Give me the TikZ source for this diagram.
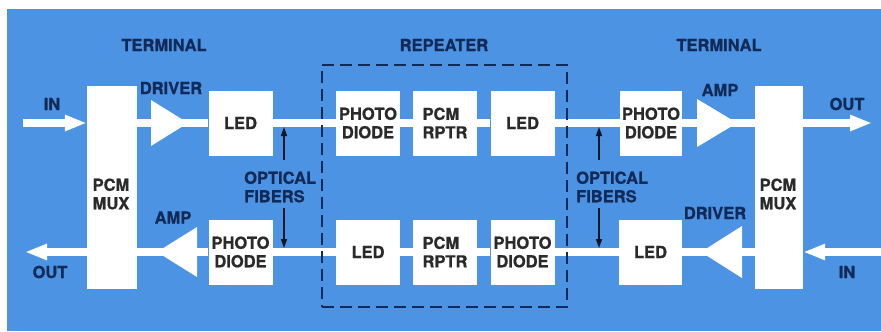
\documentclass[tikz,border=0pt]{standalone}
\usepackage{fontspec}
\setmainfont{TeX Gyre Heros}[BoldFeatures={FakeBold=0.8}]
\usetikzlibrary{arrows.meta}
\definecolor{bg}{RGB}{76,147,227}
\definecolor{navy}{RGB}{18,42,88}
\definecolor{boxtext}{RGB}{42,42,42}
\definecolor{fibcol}{RGB}{15,22,40}
\tikzset{
 lbl/.style={text=navy, font=\bfseries\fontsize{16.5}{18.5}\selectfont, inner sep=0pt},
 blk/.style={fill=white, minimum width=64pt, minimum height=65pt, inner sep=0pt, text=boxtext, align=center, font=\bfseries\fontsize{16.5}{18.5}\selectfont},
 muxbox/.style={fill=white, minimum width=50pt, minimum height=203pt, inner sep=0pt},
 sig/.style={white, line width=8pt},
 bigarrow/.style={sig, -{Triangle[length=22pt,width=15pt]}},
 fib/.style={fibcol, line width=1.5pt, -{Triangle[length=9pt,width=6pt]}},
 tri/.style={fill=white},
 repbox/.style={draw=navy, line width=2pt, dash pattern=on 12pt off 6pt, minimum width=245pt, minimum height=242pt, inner sep=0pt},
}
\begin{document}
\begin{tikzpicture}[x=1pt,y=-1pt]
\useasboundingbox (0,0) rectangle (881,332);
\fill[white] (0,0) rectangle (881,332);
\fill[bg] (7,9) rectangle (881,331);

% multiplexers
\node[muxbox] (muxL) at (112,187.5) {};
\node[muxbox, minimum width=48pt] (muxR) at (779,187.5) {};
\node[lbl, text=boxtext, align=left] (muxLt) at (111,194) {PCM\\MUX};
\node[lbl, text=boxtext, align=left] (muxRt) at (778,194) {PCM\\MUX};

% top row
\node[blk] (ledL) at (240.5,123) {LED};
\node[blk] (pdA) at (368,123) {PHOTO\\DIODE};
\node[blk, align=left] (rpA) at (445,123) {PCM\\RPTR};
\node[blk] (ledA) at (522.5,123) {LED};
\node[blk, minimum width=62pt] (pdR) at (651,123) {PHOTO\\DIODE};

% bottom row
\node[blk] (pdL) at (240.5,252) {PHOTO\\DIODE};
\node[blk] (ledB) at (368,252) {LED};
\node[blk, align=left] (rpB) at (445,252) {PCM\\RPTR};
\node[blk] (pdB) at (522.5,252) {PHOTO\\DIODE};
\node[blk, minimum width=63pt] (ledR) at (650.5,252) {LED};

% amplifiers / drivers
\fill[tri] (151,100) -- (188,123) -- (151,146) -- cycle;
\coordinate (drvL) at (165,123);
\fill[tri] (197,227) -- (157,252) -- (197,277) -- cycle;
\coordinate (ampL) at (183,252);
\fill[tri] (697,99) -- (737,123) -- (697,147) -- cycle;
\coordinate (ampR) at (713,123);
\fill[tri] (742,226) -- (701,252) -- (742,278) -- cycle;
\coordinate (drvR) at (728,252);

% end points
\coordinate (inL) at (23,123);
\coordinate (outR) at (872,123);
\coordinate (inR) at (881,252);
\coordinate (outL) at (25,252);

% signal paths
\draw[bigarrow] (inL) -- (inL -| muxL.west);
\draw[sig] (muxL.east |- drvL) -- (drvL) -- (ledL) -- (pdA) -- (rpA) -- (ledA) -- (pdR) -- (ampR) -- (ampR -| muxR.west);
\draw[bigarrow] (muxR.east |- outR) -- (outR);
\draw[bigarrow] (inR) -- (inR -| muxR.east);
\draw[sig] (muxR.west |- drvR) -- (drvR) -- (ledR) -- (pdB) -- (rpB) -- (ledB) -- (pdL) -- (ampL) -- (ampL -| muxL.east);
\draw[bigarrow] (muxL.west |- outL) -- (outL);

% repeater frame
\node[repbox] (rep) at (444.5,186) {};

% fibre arrows
\coordinate (fLu) at (284,160); \coordinate (fLut) at (284,127);
\coordinate (fLd) at (284,208); \coordinate (fLdt) at (284,248);
\coordinate (fRu) at (599,160); \coordinate (fRut) at (599,127);
\coordinate (fRd) at (599,208); \coordinate (fRdt) at (599,248);
\draw[fib] (fLu) -- (fLut);
\draw[fib] (fLd) -- (fLdt);
\draw[fib] (fRu) -- (fRut);
\draw[fib] (fRd) -- (fRdt);

% labels
\node[lbl] (termL) at (164,45) {TERMINAL};
\node[lbl] (reptxt) at (444,45) {REPEATER};
\node[lbl] (termR) at (719,45) {TERMINAL};
\node[lbl] (drvLt) at (171,88) {DRIVER};
\node[lbl] (ampRt) at (720,90) {AMP};
\node[lbl] (ampLt) at (173,217.5) {AMP};
\node[lbl] (drvRt) at (715,213) {DRIVER};
\node[lbl] (inLt) at (52,104) {IN};
\node[lbl] (outRt) at (847,104) {OUT};
\node[lbl] (outLt) at (50,272) {OUT};
\node[lbl] (inRt) at (847,272) {IN};
\node[lbl, align=left, anchor=west] (ofL) at (244,187) {OPTICAL\\FIBERS};
\node[lbl, align=left, anchor=west] (ofR) at (576,187) {OPTICAL\\FIBERS};
\end{tikzpicture}
\end{document}
